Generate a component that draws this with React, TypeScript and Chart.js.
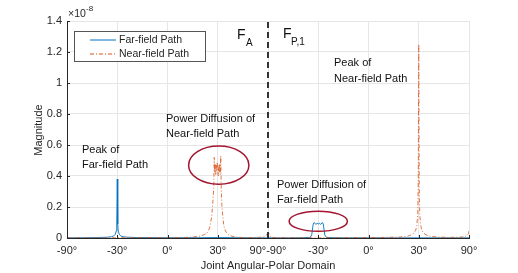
import React, { useEffect, useRef } from "react";
import { Chart, registerables } from "chart.js";

Chart.register(...registerables);

// Joint domain: first half (F_A) spans sin(theta) in [-1, 1] -> x in [-1, 1];
// second half (F_P,1) spans sin(theta) in [-1, 1] -> x in [1, 3].
const xTickValues = [-1, -0.5, 0, 0.5, 1, 1.5, 2, 2.5, 3];
const xTickLabels = ["-90°", "-30°", "0°", "30°", "90°-90°", "-30°", "0°", "30°", "90°"];
const yTickValues = [0, 0.2, 0.4, 0.6, 0.8, 1, 1.2, 1.4];
const yTickLabels = ["0", "0.2", "0.4", "0.6", "0.8", "1", "1.2", "1.4"];

// Magnitudes in units of 1e-8
const farX = [
  -1, -0.8, -0.7, -0.6, -0.56, -0.54, -0.53, -0.52, -0.51, -0.505, -0.5, -0.495, -0.49, -0.48, -0.47,
  -0.46, -0.44, -0.4, -0.3, 0, 0.3, 0.5, 0.7, 1, 1.2, 1.35, 1.42, 1.435, 1.45, 1.46, 1.475, 1.49,
  1.5, 1.51, 1.525, 1.54, 1.55, 1.565, 1.58, 1.65, 1.8, 2, 2.5, 3,
];
const farY = [
  0.001, 0.002, 0.003, 0.005, 0.008, 0.012, 0.016, 0.024, 0.045, 0.09, 0.38, 0.09, 0.045, 0.024, 0.016,
  0.012, 0.008, 0.005, 0.003, 0.002, 0.002, 0.003, 0.002, 0.001, 0.001, 0.002, 0.004, 0.02, 0.09, 0.1,
  0.088, 0.095, 0.09, 0.095, 0.088, 0.1, 0.09, 0.02, 0.004, 0.002, 0.001, 0.001, 0.001, 0.001,
];

const nearX = [
  -1, -0.6, -0.3, 0, 0.15, 0.25, 0.32, 0.36, 0.39, 0.41, 0.425, 0.44, 0.45, 0.46, 0.465, 0.47, 0.475,
  0.48, 0.485, 0.49, 0.495, 0.5, 0.505, 0.51, 0.515, 0.52, 0.525, 0.53, 0.535, 0.54, 0.55, 0.56, 0.575,
  0.59, 0.61, 0.64, 0.68, 0.75, 0.85, 0.95, 0.98, 0.995, 1, 1.005, 1.02, 1.05, 1.2, 1.5, 1.8, 2.1, 2.3,
  2.38, 2.42, 2.45, 2.47, 2.48, 2.49, 2.495, 2.5, 2.505, 2.51, 2.52, 2.53, 2.55, 2.58, 2.62, 2.7, 2.8,
  2.9, 2.95, 2.98, 2.995, 3,
];
const nearY = [
  0.001, 0.001, 0.002, 0.002, 0.003, 0.006, 0.012, 0.02, 0.03, 0.05, 0.08, 0.14, 0.22, 0.32, 0.52,
  0.42, 0.48, 0.41, 0.47, 0.43, 0.49, 0.44, 0.4, 0.47, 0.42, 0.48, 0.41, 0.53, 0.32, 0.22, 0.14, 0.08,
  0.05, 0.03, 0.02, 0.012, 0.006, 0.003, 0.002, 0.006, 0.015, 0.03, 0.005, 0.035, 0.01, 0.003, 0.002,
  0.001, 0.002, 0.003, 0.006, 0.01, 0.018, 0.03, 0.05, 0.08, 0.15, 0.35, 1.25, 0.35, 0.15, 0.08, 0.05,
  0.03, 0.018, 0.01, 0.006, 0.004, 0.005, 0.008, 0.015, 0.03, 0.045,
];

const dividerX = [1, 1];
const dividerY = [0, 1.4];

const seriesNames = ["Far-field Path", "Near-field Path"];
const FAR_COLOR = "rgb(0,114,189)";
const NEAR_COLOR = "rgb(217,83,25)";
const FONT = "'Liberation Sans', Arial, Helvetica, sans-serif";
const TEXT = "#262626";

// ellipse annotations in data units: [cx, cy, rx, ry]
const ellipseNear = [0.51, 0.47, 0.3, 0.123];
const ellipseFar = [1.5, 0.108, 0.29, 0.065];

const toPts = (xs: number[], ys: number[]) => xs.map((x, i) => ({ x, y: ys[i] }));

const annotPlugin = {
  id: "annot",
  afterDraw(chart: any) {
    const ctx = chart.ctx as CanvasRenderingContext2D;
    const xs = chart.scales.x;
    const ys = chart.scales.y;
    ctx.save();

    // ellipses
    ctx.strokeStyle = "#A2142F";
    ctx.lineWidth = 1.5;
    for (const e of [ellipseNear, ellipseFar]) {
      const cx = xs.getPixelForValue(e[0]);
      const cy = ys.getPixelForValue(e[1]);
      const rx = Math.abs(xs.getPixelForValue(e[0] + e[2]) - cx);
      const ry = Math.abs(ys.getPixelForValue(e[1] + e[3]) - cy);
      ctx.beginPath();
      ctx.ellipse(cx, cy, rx, ry, 0, 0, Math.PI * 2);
      ctx.stroke();
    }

    // legend
    ctx.fillStyle = "#ffffff";
    ctx.fillRect(74.5, 31.5, 131, 30);
    ctx.strokeStyle = "#555555";
    ctx.lineWidth = 1;
    ctx.strokeRect(74.5, 31.5, 131, 30);
    ctx.lineWidth = 1;
    ctx.strokeStyle = FAR_COLOR;
    ctx.beginPath();
    ctx.moveTo(90, 40);
    ctx.lineTo(116, 40);
    ctx.stroke();
    ctx.strokeStyle = NEAR_COLOR;
    ctx.setLineDash([4, 2, 1, 2]);
    ctx.beginPath();
    ctx.moveTo(90, 54);
    ctx.lineTo(116, 54);
    ctx.stroke();
    ctx.setLineDash([]);
    ctx.fillStyle = TEXT;
    ctx.font = `10.5px ${FONT}`;
    ctx.textBaseline = "middle";
    ctx.textAlign = "left";
    ctx.fillText(seriesNames[0], 119, 40);
    ctx.fillText(seriesNames[1], 119, 54);

    // annotations
    ctx.font = `11px ${FONT}`;
    ctx.fillStyle = "#111111";
    ctx.fillText("Power Diffusion of", 166, 119);
    ctx.fillText("Near-field Path", 166, 134);
    ctx.fillText("Peak of", 82, 150);
    ctx.fillText("Far-field Path", 82, 165);
    ctx.fillText("Power Diffusion of", 277, 185);
    ctx.fillText("Far-field Path", 277, 200);
    ctx.fillText("Peak of", 334, 63);
    ctx.fillText("Near-field Path", 334, 79);

    // F_A, F_P,1
    ctx.font = `14px ${FONT}`;
    ctx.fillText("F", 237, 35);
    ctx.fillText("F", 283, 34);
    ctx.font = `10px ${FONT}`;
    ctx.fillText("A", 246, 43);
    ctx.fillText("P,1", 291, 42);

    // exponent
    ctx.fillStyle = TEXT;
    ctx.font = `10.5px ${FONT}`;
    ctx.fillText("×10", 68, 14);
    ctx.font = `8px ${FONT}`;
    ctx.fillText("-8", 86, 9);

    // axis titles
    ctx.font = `11px ${FONT}`;
    ctx.textAlign = "center";
    ctx.fillText("Joint Angular-Polar Domain", 268, 266);
    ctx.save();
    ctx.translate(39, 130);
    ctx.rotate(-Math.PI / 2);
    ctx.fillText("Magnitude", 0, 0);
    ctx.restore();

    // inward tick marks
    ctx.strokeStyle = "#262626";
    ctx.lineWidth = 1;
    const bottom = chart.chartArea.bottom;
    const left = chart.chartArea.left;
    ctx.beginPath();
    for (const v of xTickValues) {
      const px = Math.round(xs.getPixelForValue(v)) + 0.5;
      ctx.moveTo(px, bottom);
      ctx.lineTo(px, bottom - 3);
    }
    for (const v of yTickValues) {
      const py = Math.round(ys.getPixelForValue(v)) + 0.5;
      ctx.moveTo(left, py);
      ctx.lineTo(left + 3, py);
    }
    ctx.stroke();
    ctx.restore();
  },
};

export default function App() {
  const ref = useRef<HTMLCanvasElement>(null);
  useEffect(() => {
    if (!ref.current) return;
    const chart = new Chart(ref.current, {
      type: "line",
      data: {
        datasets: [
          {
            label: "divider",
            data: toPts(dividerX, dividerY),
            borderColor: "#333333",
            borderWidth: 2,
            borderDash: [6, 4],
            pointRadius: 0,
            order: 0,
          },
          {
            label: seriesNames[1],
            data: toPts(nearX, nearY),
            borderColor: NEAR_COLOR,
            borderWidth: 0.8,
            borderDash: [4, 2, 1, 2],
            pointRadius: 0,
            order: 1,
          },
          {
            label: seriesNames[0],
            data: toPts(farX, farY),
            borderColor: FAR_COLOR,
            borderWidth: 0.9,
            pointRadius: 0,
            order: 2,
          },
        ],
      },
      options: {
        responsive: false,
        animation: false,
        events: [],
        layout: { padding: { top: 21, right: 49, left: 0, bottom: 0 } },
        plugins: { legend: { display: false }, tooltip: { enabled: false } },
        scales: {
          x: {
            type: "linear",
            min: -1,
            max: 3,
            afterFit: (s: any) => {
              s.height = 35;
            },
            afterBuildTicks: (s: any) => {
              s.ticks = xTickValues.map((v) => ({ value: v }));
            },
            ticks: {
              autoSkip: false,
              maxRotation: 0,
              padding: 6,
              color: TEXT,
              font: { family: FONT, size: 11 },
              callback: (v: any) => {
                const i = xTickValues.indexOf(Number(v));
                return i >= 0 ? xTickLabels[i] : "";
              },
            },
            grid: { color: "#e6e6e6", drawTicks: false },
            border: { display: true, color: "#262626" },
          },
          y: {
            type: "linear",
            min: 0,
            max: 1.4,
            afterFit: (s: any) => {
              s.width = 67;
            },
            afterBuildTicks: (s: any) => {
              s.ticks = yTickValues.map((v) => ({ value: v }));
            },
            ticks: {
              padding: 5,
              color: TEXT,
              font: { family: FONT, size: 11 },
              callback: (v: any) => {
                const i = yTickValues.findIndex((t) => Math.abs(t - Number(v)) < 1e-9);
                return i >= 0 ? yTickLabels[i] : "";
              },
            },
            grid: { color: "#e6e6e6", drawTicks: false },
            border: { display: true, color: "#262626" },
          },
        },
      },
      plugins: [annotPlugin],
    } as any);
    return () => chart.destroy();
  }, []);
  return (
    <div style={{ position: "fixed", left: 0, top: 0, width: 518, height: 273, background: "#fff" }}>
      <canvas ref={ref} width={518} height={273} style={{ display: "block" }} />
    </div>
  );
}
